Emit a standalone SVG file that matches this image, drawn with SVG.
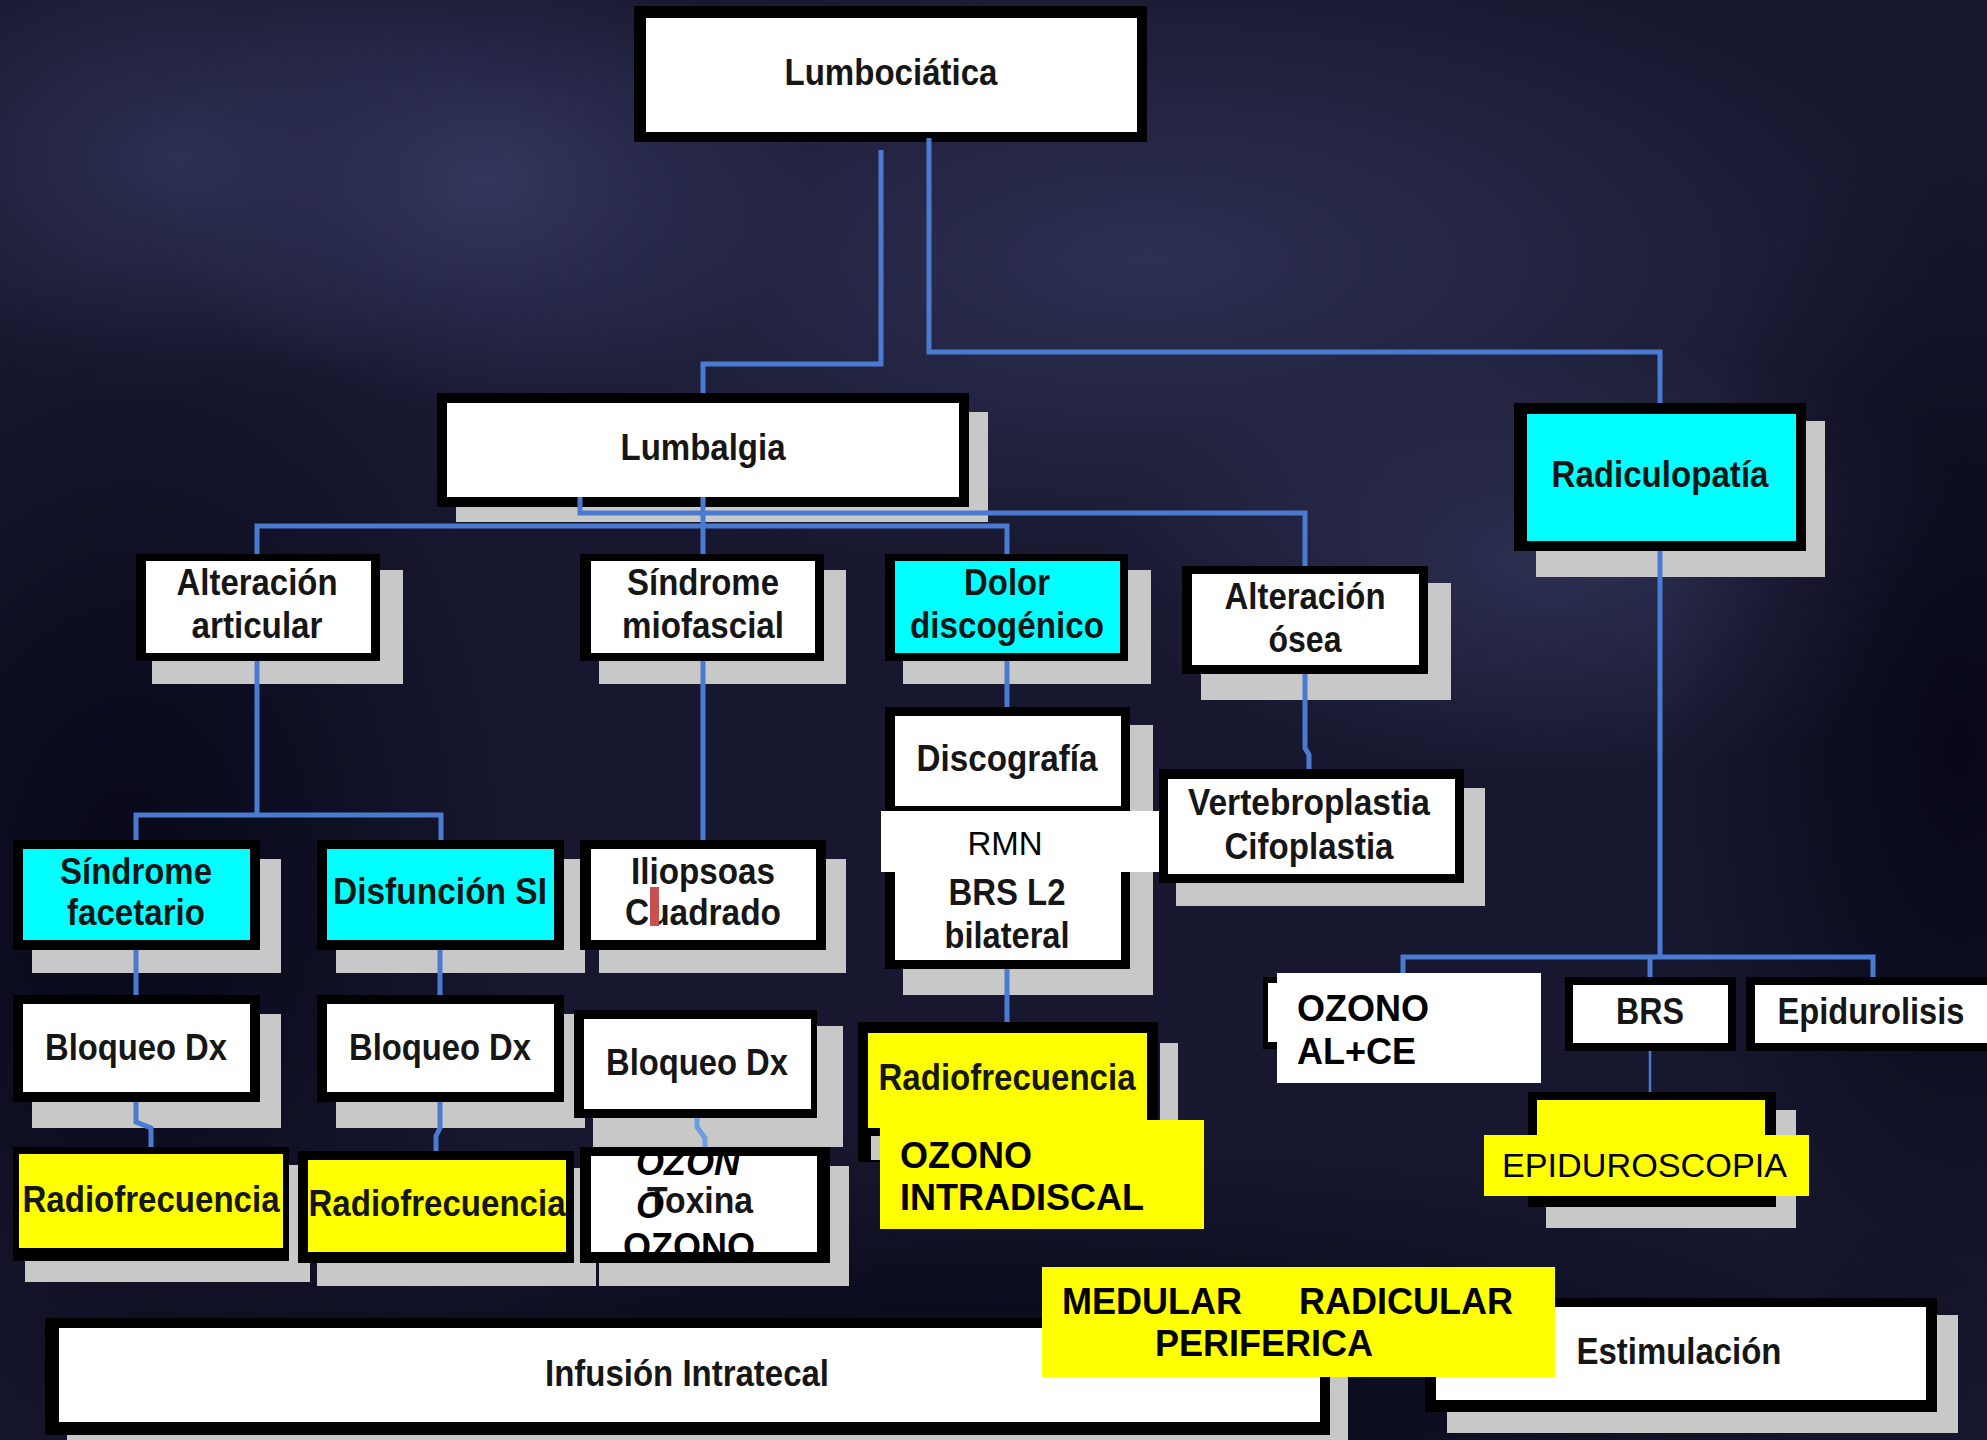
<svg xmlns="http://www.w3.org/2000/svg" width="1987" height="1440" viewBox="0 0 1987 1440">
<style>
.sh{fill:#c8c8c8}
.fr{fill:#000}
.wh{fill:#fff}
.cy{fill:#00ffff}
.ye{fill:#ffff00}
.lbl{font-family:"Liberation Sans Narrow","Liberation Sans",Arial,sans-serif;font-weight:bold;font-size:36px;fill:#161616;text-anchor:middle}
.ov{font-family:"Liberation Sans",Arial,sans-serif;font-weight:bold;font-size:36px;fill:#000}
.ovr{font-family:"Liberation Sans",Arial,sans-serif;font-size:33px;fill:#000}
.con{fill:none;stroke:#4a7bd0;stroke-width:5;stroke-linejoin:miter}
</style>
<defs>
<radialGradient id="gLight"><stop offset="0" stop-color="#2e3052" stop-opacity="1"/><stop offset="1" stop-color="#2e3052" stop-opacity="0"/></radialGradient>
<radialGradient id="gLight2"><stop offset="0" stop-color="#34365e" stop-opacity="1"/><stop offset="1" stop-color="#34365e" stop-opacity="0"/></radialGradient>
<radialGradient id="gDark"><stop offset="0" stop-color="#08081a" stop-opacity="1"/><stop offset="1" stop-color="#08081a" stop-opacity="0"/></radialGradient>
</defs>
<g id="background">
<rect width="1987" height="1440" fill="#17172f"/>
<ellipse cx="1150" cy="260" rx="800" ry="330" fill="url(#gLight)"/>
<ellipse cx="480" cy="180" rx="330" ry="240" fill="url(#gLight2)"/>
<ellipse cx="180" cy="160" rx="350" ry="240" fill="url(#gLight)"/>
<ellipse cx="1550" cy="560" rx="450" ry="220" fill="url(#gLight)"/>
<ellipse cx="130" cy="880" rx="420" ry="620" fill="url(#gDark)"/>
<ellipse cx="1960" cy="750" rx="300" ry="650" fill="url(#gDark)"/>
<ellipse cx="1000" cy="1380" rx="1100" ry="260" fill="url(#gDark)"/>
</g>

<g id="n-lumbociatica">
<rect class="fr" x="634" y="6" width="513" height="136"/>
<rect class="wh" x="646" y="18" width="491" height="114"/>
<text class="lbl" x="891" y="85" textLength="213" lengthAdjust="spacingAndGlyphs">Lumbociática</text>
</g>

<g id="n-lumbalgia">
<rect class="sh" x="456" y="412" width="532" height="110"/>
<rect class="fr" x="437" y="393" width="532" height="114"/>
<rect class="wh" x="447" y="403" width="512" height="94"/>
<text class="lbl" x="703" y="460" textLength="165" lengthAdjust="spacingAndGlyphs">Lumbalgia</text>
</g>

<g id="n-radiculopatia">
<rect class="sh" x="1536" y="421" width="289" height="156"/>
<rect class="fr" x="1514" y="403" width="292" height="148"/>
<rect class="cy" x="1527" y="414" width="269" height="127"/>
<text class="lbl" x="1660" y="487" textLength="217" lengthAdjust="spacingAndGlyphs">Radiculopatía</text>
</g>

<g id="n-alteracion-articular">
<rect class="sh" x="152" y="570" width="251" height="114"/>
<rect class="fr" x="136" y="554" width="244" height="107"/>
<rect class="wh" x="146" y="561" width="225" height="92"/>
<text class="lbl" x="257" y="595" textLength="161" lengthAdjust="spacingAndGlyphs">Alteración</text>
<text class="lbl" x="257" y="638" textLength="131" lengthAdjust="spacingAndGlyphs">articular</text>
</g>

<g id="n-sindrome-miofascial">
<rect class="sh" x="599" y="570" width="247" height="114"/>
<rect class="fr" x="580" y="554" width="244" height="107"/>
<rect class="wh" x="591" y="561" width="224" height="92"/>
<text class="lbl" x="703" y="595" textLength="152" lengthAdjust="spacingAndGlyphs">Síndrome</text>
<text class="lbl" x="703" y="638" textLength="162" lengthAdjust="spacingAndGlyphs">miofascial</text>
</g>

<g id="n-dolor-discogenico">
<rect class="sh" x="903" y="570" width="248" height="114"/>
<rect class="fr" x="885" y="554" width="243" height="107"/>
<rect class="cy" x="895" y="561" width="225" height="92"/>
<text class="lbl" x="1007" y="595" textLength="86" lengthAdjust="spacingAndGlyphs">Dolor</text>
<text class="lbl" x="1007" y="638" textLength="194" lengthAdjust="spacingAndGlyphs">discogénico</text>
</g>

<g id="n-alteracion-osea">
<rect class="sh" x="1201" y="583" width="250" height="117"/>
<rect class="fr" x="1182" y="566" width="246" height="108"/>
<rect class="wh" x="1192" y="574" width="227" height="91"/>
<text class="lbl" x="1305" y="609" textLength="161" lengthAdjust="spacingAndGlyphs">Alteración</text>
<text class="lbl" x="1305" y="652" textLength="73" lengthAdjust="spacingAndGlyphs">ósea</text>
</g>

<g id="n-discografia">
<rect class="sh" x="903" y="725" width="250" height="270"/>
<rect class="fr" x="885" y="707" width="245" height="104"/>
<rect class="wh" x="895" y="716" width="226" height="90"/>
<text class="lbl" x="1007" y="771" textLength="181" lengthAdjust="spacingAndGlyphs">Discografía</text>
</g>

<g id="n-brs-l2">
<rect class="fr" x="885" y="872" width="245" height="97"/>
<rect class="wh" x="895" y="872" width="226" height="88"/>
<text class="lbl" x="1007" y="905" textLength="117" lengthAdjust="spacingAndGlyphs">BRS L2</text>
<text class="lbl" x="1007" y="948" textLength="125" lengthAdjust="spacingAndGlyphs">bilateral</text>
</g>

<g id="n-vertebroplastia">
<rect class="sh" x="1176" y="788" width="309" height="118"/>
<rect class="fr" x="1159" y="769" width="305" height="114"/>
<rect class="wh" x="1168" y="779" width="287" height="95"/>
<text class="lbl" x="1309" y="815" textLength="242" lengthAdjust="spacingAndGlyphs">Vertebroplastia</text>
<text class="lbl" x="1309" y="859" textLength="169" lengthAdjust="spacingAndGlyphs">Cifoplastia</text>
</g>

<g id="n-sindrome-facetario">
<rect class="sh" x="32" y="859" width="249" height="114"/>
<rect class="fr" x="13" y="840" width="247" height="110"/>
<rect class="cy" x="23" y="849" width="227" height="91"/>
<text class="lbl" x="136" y="884" textLength="152" lengthAdjust="spacingAndGlyphs">Síndrome</text>
<text class="lbl" x="136" y="925" textLength="138" lengthAdjust="spacingAndGlyphs">facetario</text>
</g>

<g id="n-disfuncion-si">
<rect class="sh" x="336" y="859" width="249" height="114"/>
<rect class="fr" x="317" y="840" width="247" height="110"/>
<rect class="cy" x="327" y="849" width="227" height="91"/>
<text class="lbl" x="440" y="904" textLength="214" lengthAdjust="spacingAndGlyphs">Disfunción SI</text>
</g>

<g id="n-iliopsoas">
<rect class="sh" x="599" y="859" width="247" height="114"/>
<rect class="fr" x="580" y="840" width="246" height="110"/>
<rect class="wh" x="591" y="849" width="225" height="91"/>
<text class="lbl" x="703" y="884" textLength="144" lengthAdjust="spacingAndGlyphs">Iliopsoas</text>
<text class="lbl" x="703" y="925" textLength="156" lengthAdjust="spacingAndGlyphs">Cuadrado</text>
<rect x="650" y="887" width="9" height="39" fill="#c8504d"/>
</g>

<g id="n-bloqueo-1">
<rect class="sh" x="32" y="1014" width="249" height="114"/>
<rect class="fr" x="13" y="995" width="247" height="107"/>
<rect class="wh" x="23" y="1004" width="227" height="88"/>
<text class="lbl" x="136" y="1060" textLength="182" lengthAdjust="spacingAndGlyphs">Bloqueo Dx</text>
</g>

<g id="n-bloqueo-2">
<rect class="sh" x="336" y="1014" width="249" height="114"/>
<rect class="fr" x="317" y="995" width="247" height="107"/>
<rect class="wh" x="327" y="1004" width="227" height="88"/>
<text class="lbl" x="440" y="1060" textLength="182" lengthAdjust="spacingAndGlyphs">Bloqueo Dx</text>
</g>

<g id="n-bloqueo-3">
<rect class="sh" x="593" y="1026" width="250" height="121"/>
<rect class="fr" x="574" y="1010" width="243" height="108"/>
<rect class="wh" x="584" y="1019" width="227" height="90"/>
<text class="lbl" x="697" y="1075" textLength="182" lengthAdjust="spacingAndGlyphs">Bloqueo Dx</text>
</g>

<g id="n-radiofrecuencia-1">
<rect class="sh" x="25" y="1165" width="285" height="117"/>
<rect class="fr" x="13" y="1147" width="276" height="114"/>
<rect class="ye" x="19" y="1154" width="264" height="94"/>
<text class="lbl" x="151" y="1212" textLength="257" lengthAdjust="spacingAndGlyphs">Radiofrecuencia</text>
</g>

<g id="n-radiofrecuencia-2">
<rect class="sh" x="317" y="1168" width="279" height="118"/>
<rect class="fr" x="298" y="1151" width="276" height="112"/>
<rect class="ye" x="308" y="1160" width="258" height="92"/>
<text class="lbl" x="437" y="1216" textLength="257" lengthAdjust="spacingAndGlyphs">Radiofrecuencia</text>
</g>

<g id="n-ozono-toxina">
<rect class="sh" x="599" y="1166" width="250" height="120"/>
<rect class="wh" x="591" y="1156" width="226" height="96"/>
<text class="lbl" x="647" y="1213" style="text-anchor:start" textLength="106" lengthAdjust="spacingAndGlyphs">Toxina</text>
<text class="ov" x="636" y="1175" font-style="italic" font-size="33">OZON</text>
<text class="ov" x="636" y="1218" font-style="italic" font-size="30">O</text>
<text class="ov" x="623" y="1259">OZONO</text>
<path class="fr" d="M580,1147H830V1263H580Z M591,1156V1252H817V1156Z" fill-rule="evenodd"/>
</g>

<g id="n-radiofrecuencia-3">
<rect class="sh" x="1160" y="1043" width="18" height="90"/>
<rect class="fr" x="858" y="1022" width="300" height="140"/>
<rect class="ye" x="868" y="1033" width="279" height="95"/>
<rect class="sh" x="871" y="1136" width="9" height="24"/>
<text class="lbl" x="1007" y="1090" textLength="257" lengthAdjust="spacingAndGlyphs">Radiofrecuencia</text>
</g>

<g id="n-brs">
<rect class="fr" x="1565" y="977" width="171" height="74"/>
<rect class="wh" x="1573" y="985" width="155" height="58"/>
<text class="lbl" x="1650" y="1024" textLength="68" lengthAdjust="spacingAndGlyphs">BRS</text>
</g>

<g id="n-epidurolisis">
<rect class="fr" x="1746" y="977" width="241" height="74"/>
<rect class="wh" x="1755" y="985" width="232" height="58"/>
<text class="lbl" x="1871" y="1024" textLength="187" lengthAdjust="spacingAndGlyphs">Epidurolisis</text>
</g>

<g id="n-epiduroscopia-base">
<rect class="sh" x="1546" y="1110" width="250" height="118"/>
<rect class="fr" x="1528" y="1092" width="248" height="115"/>
<rect class="ye" x="1537" y="1100" width="228" height="40"/>
</g>

<g id="n-infusion">
<rect class="sh" x="67" y="1335" width="1281" height="105"/>
<rect class="fr" x="45" y="1318" width="1285" height="117"/>
<rect class="wh" x="59" y="1328" width="1261" height="94"/>
<text class="lbl" x="687" y="1386" textLength="284" lengthAdjust="spacingAndGlyphs">Infusión Intratecal</text>
</g>

<g id="n-estimulacion">
<rect class="sh" x="1447" y="1315" width="511" height="118"/>
<rect class="fr" x="1425" y="1298" width="512" height="114"/>
<rect class="wh" x="1436" y="1307" width="490" height="93"/>
<text class="lbl" x="1679" y="1364" textLength="205" lengthAdjust="spacingAndGlyphs">Estimulación</text>
</g>

<g id="connectors">
<path class="con" d="M881,150V364H703V393"/>
<path class="con" d="M929,138V352H1660V403"/>
<path class="con" d="M580,497V513H1305V566"/>
<path class="con" d="M257,554V526H1007V554"/>
<path class="con" d="M703,497V554"/>
<path class="con" d="M257,661V815M136,840V815H441V840"/>
<path class="con" d="M703,661V840"/>
<path class="con" d="M1007,661V707"/>
<path class="con" d="M1305,674V748L1309,755V769"/>
<path class="con" d="M136,950V995"/>
<path class="con" d="M440,950V995"/>
<path class="con" d="M136,1102V1122L151,1128V1147"/>
<path class="con" d="M440,1102V1128L436,1136V1151"/>
<path class="con" d="M697,1118V1127L705,1138V1147" style="stroke:#6a9ee0"/>
<path class="con" d="M1007,969V1022"/>
<path class="con" d="M1660,551V957M1403,973V957H1873V977M1650,957V977"/>
<path class="con" d="M1650,1051V1092" style="stroke-width:2.5"/>
</g>

<g id="n-rmn">
<rect class="wh" x="881" y="811" width="278" height="61"/>
<text class="ovr" x="1005" y="855" text-anchor="middle" font-size="32">RMN</text>
</g>

<g id="n-ozono-alce">
<rect class="fr" x="1263" y="977" width="20" height="72"/>
<rect class="wh" x="1268" y="983" width="12" height="59"/>
<rect class="wh" x="1277" y="973" width="264" height="110"/>
<text class="ov" x="1297" y="1021">OZONO</text>
<text class="ov" x="1297" y="1064">AL+CE</text>
</g>

<g id="n-ozono-intradiscal">
<rect class="ye" x="880" y="1120" width="324" height="109"/>
<text class="ov" x="900" y="1168">OZONO</text>
<text class="ov" x="900" y="1210">INTRADISCAL</text>
</g>

<g id="n-epiduroscopia">
<rect class="ye" x="1484" y="1135" width="325" height="61"/>
<text class="ovr" x="1502" y="1177" textLength="285" lengthAdjust="spacingAndGlyphs">EPIDUROSCOPIA</text>
</g>

<g id="n-medular">
<rect class="ye" x="1042" y="1267" width="513" height="110"/>
<text class="ov" x="1062" y="1314">MEDULAR</text>
<text class="ov" x="1299" y="1314">RADICULAR</text>
<text class="ov" x="1155" y="1356">PERIFERICA</text>
</g>
</svg>
